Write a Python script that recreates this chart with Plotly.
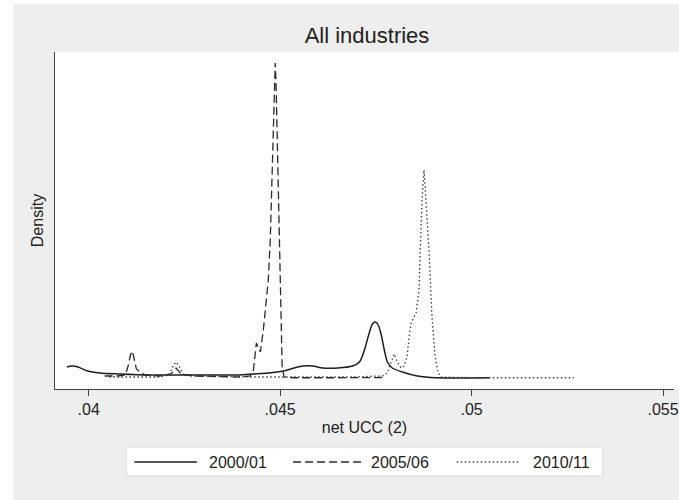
import plotly.graph_objects as go

# Kernel density estimates of net user cost of capital, all industries
periods = ["2000/01", "2005/06", "2010/11"]

ucc_2000 = [0.03943, 0.03956, 0.03972, 0.03997, 0.04028, 0.04080, 0.04158, 0.04288,
            0.04391, 0.04430, 0.04469, 0.04508, 0.04536, 0.04560, 0.04585, 0.04611,
            0.04650, 0.04689, 0.04707, 0.04720, 0.04731, 0.04741, 0.04749, 0.04756,
            0.04764, 0.04772, 0.04780, 0.04793, 0.04819, 0.04858, 0.04909, 0.05047]
dens_2000 = [220, 240, 220, 140, 100, 80, 60, 60,
             60, 80, 100, 140, 200, 240, 240, 200,
             200, 240, 320, 560, 860, 1080, 1120, 1060,
             860, 560, 320, 200, 120, 40, 5, 5]

ucc_2005 = [0.040415, 0.040751, 0.040959, 0.041036, 0.041088, 0.041140, 0.041192, 0.041244,
            0.041347, 0.041477, 0.041839, 0.042150, 0.042280, 0.042409, 0.042746, 0.043912,
            0.044223, 0.044301, 0.044378, 0.044430, 0.044482, 0.044560, 0.044637, 0.044689,
            0.044741, 0.044793, 0.044845, 0.044871, 0.044896, 0.044922, 0.044974, 0.045000,
            0.045026, 0.045052, 0.045104, 0.045337, 0.046503, 0.047746]
dens_2005 = [40, 40, 60, 260, 460, 540, 360, 180,
             120, 60, 40, 80, 200, 80, 40, 20,
             40, 160, 700, 600, 520, 960, 1560, 1960,
             2760, 4160, 5560, 6300, 5760, 4760, 3260, 2060,
             860, 200, 20, 5, 5, 10]

ucc_2010 = [0.040544, 0.041839, 0.042098, 0.042202, 0.042280, 0.042358, 0.042461, 0.042617,
            0.044171, 0.045466, 0.046762, 0.047668, 0.047798, 0.047902, 0.047979, 0.048057,
            0.048161, 0.048238, 0.048316, 0.048368, 0.048420, 0.048497, 0.048549, 0.048575,
            0.048627, 0.048653, 0.048705, 0.048757, 0.048808, 0.048886, 0.048964, 0.049042,
            0.049119, 0.049197, 0.050130, 0.052669]
dens_2010 = [20, 20, 60, 240, 320, 240, 80, 40,
             20, 20, 20, 40, 100, 320, 480, 320,
             200, 240, 440, 820, 1100, 1220, 1300, 1460,
             1760, 2460, 3560, 4160, 3560, 2560, 1220, 460,
             120, 20, 5, 5]

tick_vals = [0.04, 0.045, 0.05, 0.055]
tick_text = [".04", ".045", ".05", ".055"]

FONT = "Liberation Sans, Arial, Helvetica, sans-serif"
INK = "#222222"
styles = [
    dict(color="#1e1e1e", width=1.5, dash="solid"),
    dict(color="#2a2a2a", width=1.3, dash="8px,4px"),
    dict(color="#3a3a3a", width=1.3, dash="1.5px,2.5px"),
]

W, H = 679, 500
L, R, T, B = 55, 0, 52, 111
PW, PH = W - L - R, H - T - B


def px_x(px):
    return (px - L) / PW


def px_y(py):
    return (H - B - py) / PH


fig = go.Figure()
series = [(ucc_2000, dens_2000), (ucc_2005, dens_2005), (ucc_2010, dens_2010)]
for name, (xs, ys), st in zip(periods, series, styles):
    fig.add_trace(go.Scatter(
        x=xs, y=ys, mode="lines", name=name, showlegend=False,
        line=dict(color=st["color"], width=st["width"], dash=st["dash"],
                  shape="spline" if st["dash"] == "solid" else "linear",
                  smoothing=0.8),
        hoverinfo="skip",
    ))

shapes = [
    # graph region
    dict(type="rect", xref="paper", yref="paper", layer="below",
         x0=px_x(13), x1=px_x(W + 5), y0=px_y(H + 5), y1=px_y(4),
         fillcolor="#eeeeee", line=dict(width=0)),
    # plot region
    dict(type="rect", xref="paper", yref="paper", layer="below",
         x0=0, x1=1.01, y0=0, y1=1, fillcolor="white", line=dict(width=0)),
    # legend box
    dict(type="rect", xref="paper", yref="paper",
         x0=px_x(127), x1=px_x(607), y0=px_y(476), y1=px_y(447),
         fillcolor="white", line=dict(color="#dddddd", width=1)),
]
annotations = []
key_spans = [(135, 198, 208), (295, 365, 372), (460, 522, 535)]
ly = px_y(462)
for name, st, (a, b, t) in zip(periods, styles, key_spans):
    shapes.append(dict(type="line", xref="paper", yref="paper",
                       x0=px_x(a), x1=px_x(b), y0=ly, y1=ly,
                       line=dict(color=st["color"], width=st["width"], dash=st["dash"])))
    annotations.append(dict(text=name, xref="paper", yref="paper", x=px_x(t), y=ly,
                            xanchor="left", yanchor="middle", showarrow=False,
                            font=dict(family=FONT, size=16, color=INK)))

fig.update_layout(
    width=W, height=H,
    margin=dict(l=L, r=R, t=T, b=B, pad=0),
    paper_bgcolor="white", plot_bgcolor="rgba(0,0,0,0)",
    font=dict(family=FONT, size=16, color=INK),
    title=dict(text="All industries", x=367 / W, xref="container",
               y=1 - 35 / H, yref="container", xanchor="center", yanchor="middle",
               font=dict(family=FONT, size=22, color=INK)),
    xaxis=dict(range=[0.039119, 0.055285], tickvals=tick_vals, ticktext=tick_text,
               ticks="outside", ticklen=6, tickwidth=1, tickcolor="#444444",
               ticklabeloverflow="allow",
               showline=True, linecolor="#444444", linewidth=1,
               showgrid=False, zeroline=False,
               tickfont=dict(family=FONT, size=16, color=INK),
               title=dict(text="net UCC (2)", standoff=4,
                          font=dict(family=FONT, size=16, color=INK))),
    yaxis=dict(range=[-220, 6520], showticklabels=False, ticks="",
               showline=True, linecolor="#444444", linewidth=1,
               showgrid=False, zeroline=False,
               title=dict(text="Density", standoff=6,
                          font=dict(family=FONT, size=16, color=INK))),
    shapes=shapes, annotations=annotations,
    showlegend=False,
)

fig.write_html("out.html")
